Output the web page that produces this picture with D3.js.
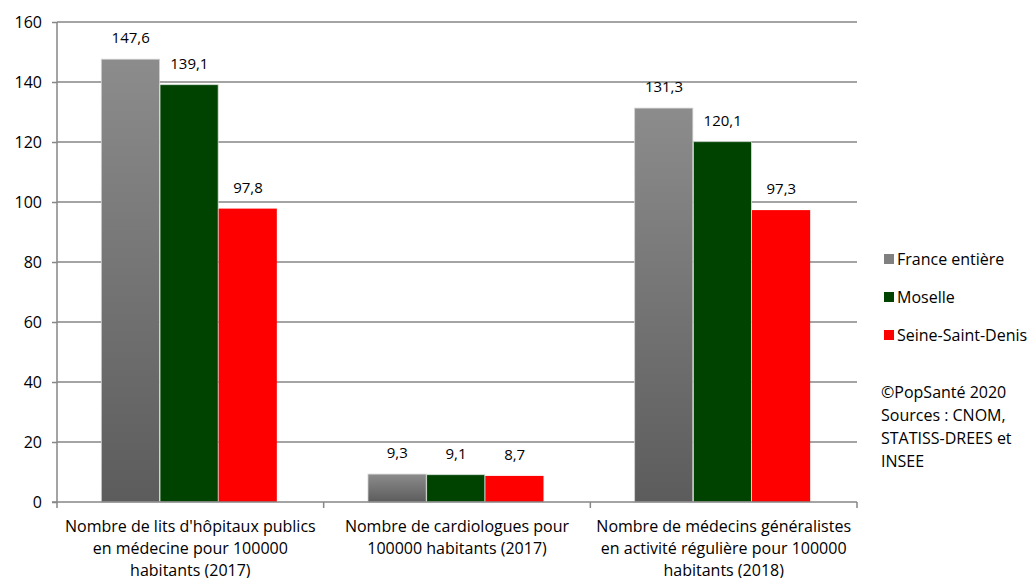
<!DOCTYPE html>
<html><head><meta charset="utf-8">
<script src="https://cdn.jsdelivr.net/npm/d3@7"></script>
<style>body{margin:0;background:#fff}svg{display:block;font-family:"Open Sans",Lato,sans-serif}</style>
</head><body><svg id="c" width="1033" height="578"></svg>
<script>
const categories = [
  ["Nombre de lits d'hôpitaux publics","en médecine pour 100000","habitants (2017)"],
  ["Nombre de cardiologues pour","100000 habitants (2017)"],
  ["Nombre de médecins généralistes","en activité régulière pour 100000","habitants (2018)"]
];
const seriesNames = ["France entière","Moselle","Seine-Saint-Denis"];
const franceValues = [147.6, 9.3, 131.3];
const moselleValues = [139.1, 9.1, 120.1];
const ssdValues = [97.8, 8.7, 97.3];
const yTicks = [0,20,40,60,80,100,120,140,160];
const footnote = ["©PopSanté 2020","Sources : CNOM,","STATISS-DREES et","INSEE"];

const svg = d3.select("#c");
const defs = svg.append("defs");
const g1 = defs.append("linearGradient").attr("id","gray").attr("x1",0).attr("y1",0).attr("x2",0).attr("y2",1);
g1.append("stop").attr("offset","0%").attr("stop-color","#8c8c8c");
g1.append("stop").attr("offset","100%").attr("stop-color","#5c5c5c");
const colors = ["url(#gray)","#004300","#ff0000"];
const legendColors = ["#808080","#004300","#ff0000"];

const L=57, R=857, T=22, B=502;
const x0 = d3.scaleBand().domain(d3.range(categories.length)).range([L,R]).paddingInner(0).paddingOuter(0);
const x1 = d3.scaleBand().domain(d3.range(3)).range([0, 176]);
const y = d3.scaleLinear().domain([0,160]).range([B,T]);
const values = [franceValues, moselleValues, ssdValues];

// grid
svg.append("g").selectAll("line").data(yTicks.filter(d=>d>0)).join("line")
  .attr("x1",L).attr("x2",R).attr("y1",d=>y(d)).attr("y2",d=>y(d))
  .attr("stroke","#868686").attr("stroke-width",1.5);

// y axis
const ya = svg.append("g").attr("transform",`translate(${L},0)`)
  .call(d3.axisLeft(y).tickValues(yTicks).tickSize(5).tickPadding(10).tickFormat(d3.format("d")));
ya.select(".domain").attr("stroke","#868686").attr("stroke-width",1.5).attr("d",`M-0,${T}V${B}`);
ya.selectAll(".tick line").attr("stroke","#868686").attr("stroke-width",1.5);
ya.selectAll("text").attr("font-size",16).attr("fill","#000").attr("font-family","'Open Sans',sans-serif");

// bars
const groups = svg.append("g").selectAll("g").data(categories).join("g")
  .attr("transform",(d,i)=>`translate(${x0(i)+(x0.bandwidth()-176)/2 - 1},0)`);
groups.each(function(c,i){
  const gg = d3.select(this);
  const vals = values.map(v=>v[i]);
  gg.selectAll("rect").data(vals).join("rect")
    .attr("x",(d,j)=>x1(j)).attr("width",x1.bandwidth()-0.5)
    .attr("y",d=>y(d)).attr("height",d=>B-y(d))
    .attr("fill",(d,j)=>colors[j])
    .attr("stroke",(d,j)=>j===0?"#d0d0d0":(j===1?"#d8e0d8":"none")).attr("stroke-width",0.8);
  gg.selectAll("text").data(vals).join("text")
    .attr("x",(d,j)=>x1(j)+x1.bandwidth()/2).attr("y",d=>y(d)-16)
    .attr("text-anchor","middle").attr("font-size",15).attr("fill","#000")
    .text(d=>d3.format(".1f")(d).replace(".",","));
});

// x axis
svg.append("line").attr("x1",L-5).attr("x2",R).attr("y1",B).attr("y2",B).attr("stroke","#868686").attr("stroke-width",1.5);
svg.append("g").selectAll("line").data(d3.range(categories.length+1)).join("line")
  .attr("x1",i=>L+i*x0.bandwidth()).attr("x2",i=>L+i*x0.bandwidth())
  .attr("y1",B).attr("y2",B+6).attr("stroke","#868686").attr("stroke-width",1.5);
const xl = svg.append("g").selectAll("text").data(categories).join("text")
  .attr("text-anchor","middle").attr("font-size",16).attr("fill","#000")
  .attr("transform",(d,i)=>`translate(${x0(i)+x0.bandwidth()/2},0)`);
xl.selectAll("tspan").data(d=>d).join("tspan")
  .attr("x",0).attr("y",(d,k)=>532+k*22).text(d=>d);

// legend
const lg = svg.append("g").selectAll("g").data(seriesNames).join("g")
  .attr("transform",(d,i)=>`translate(884,${259+i*38})`);
lg.append("rect").attr("x",0).attr("y",-5).attr("width",10).attr("height",10).attr("fill",(d,i)=>legendColors[i]);
lg.append("text").attr("x",13).attr("y",6).attr("font-size",16).attr("fill","#000").text(d=>d);

svg.append("g").selectAll("text").data(footnote).join("text")
  .attr("x",881).attr("y",(d,i)=>398+i*23).attr("font-size",16).attr("fill","#000").text(d=>d);
</script></body></html>
